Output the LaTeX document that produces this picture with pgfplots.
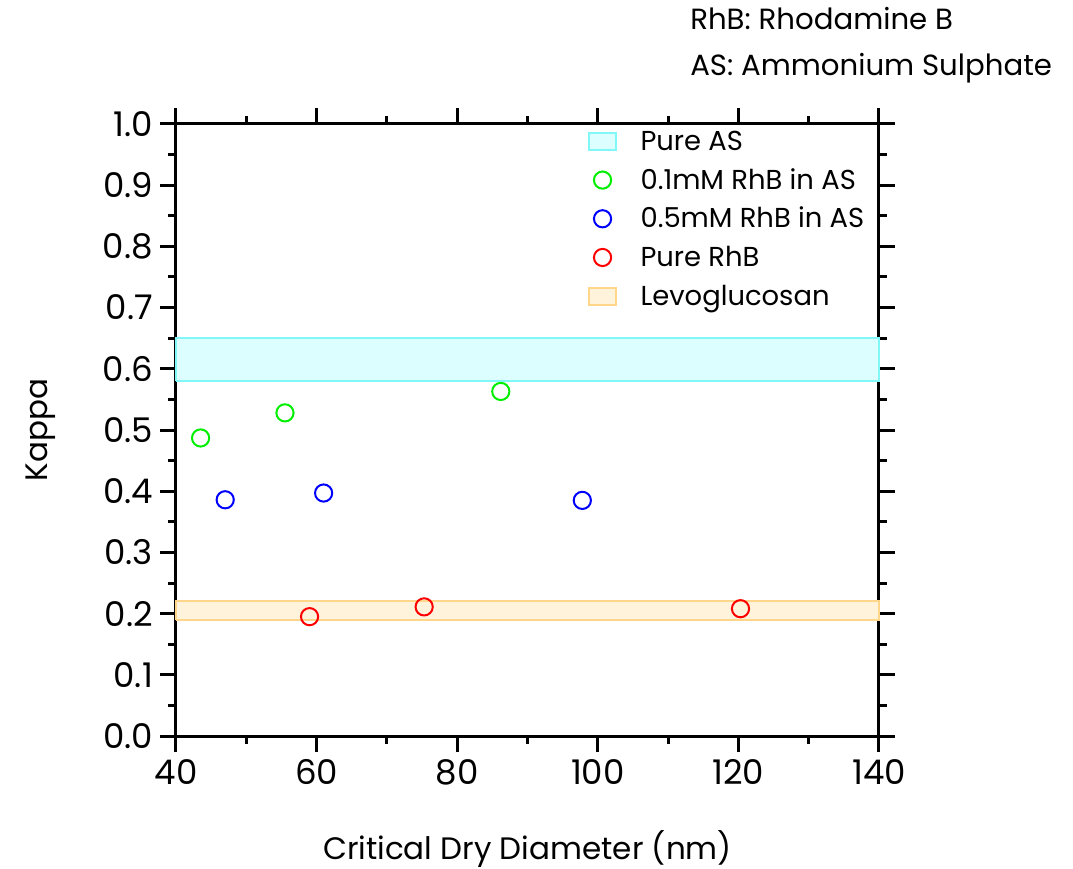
\documentclass[border=0pt]{standalone}
\usepackage{pgfplots}
\pgfplotsset{compat=1.18}
\usepackage{fontspec}
\setmainfont{Poppins}
\definecolor{asfill}{HTML}{DCFEFE}
\definecolor{asedge}{HTML}{80F8F8}
\definecolor{lgfill}{HTML}{FFF3DC}
\definecolor{lgedge}{HTML}{FFD68A}
\definecolor{mgreen}{HTML}{00EE00}
\begin{document}
\begin{tikzpicture}
\begin{axis}[
  at={(0,0)}, anchor=south west,
  scale only axis, width=351.5pt, height=306pt,
  xmin=40, xmax=140, ymin=0, ymax=1,
  xtick={40,60,80,100,120,140}, minor xtick={50,70,90,110,130},
  ytick={0,0.1,0.2,0.3,0.4,0.5,0.6,0.7,0.8,0.9,1.0},
  minor ytick={0.05,0.15,0.25,0.35,0.45,0.55,0.65,0.75,0.85,0.95},
  tick align=outside, tick pos=both,
  major tick length=8pt, minor tick length=4pt,
  every tick/.style={black, line width=1.5pt},
  axis line style={line width=1.5pt},
  /pgf/number format/assume math mode=true,
  ticklabel style={font=\fontsize{17}{20}\selectfont},
  yticklabel style={/pgf/number format/.cd, fixed, fixed zerofill, precision=1},
  xticklabel style={/pgf/number format/.cd, fixed, precision=0},
  xlabel={Critical Dry Diameter (nm)},
  ylabel={Kappa},
  label style={font=\fontsize{15.5}{18}\selectfont},
  xlabel style={at={(axis description cs:0.5,-0.201)}, anchor=base},
  ylabel style={at={(axis description cs:-0.193,0.5)}, anchor=center},
  legend cell align=left,
  legend style={draw=none, fill=none, inner sep=0pt,
    at={(rel axis cs:0.582,0.9886)}, anchor=north west,
    font=\fontsize{13.7}{15}\selectfont,
    nodes={inner sep=0pt, text height=9.5pt, text depth=3pt},
    row sep=6.85pt, column sep=10.5pt},
  area legend image/.style={legend image code/.code={\path[draw=none, fill=none] (0pt,-4.25pt) rectangle (17pt,4.25pt); \draw[##1] (1.75pt,-3pt) rectangle (15.25pt,5.5pt);}},
  mark legend image/.style={legend image code/.code={\path[draw=none, fill=none] (0pt,-4.25pt) rectangle (17pt,4.25pt); \draw[##1] plot coordinates {(8.5pt,1.25pt)};}},
  clip=false,
]
\addplot[fill=asfill, draw=asedge, line width=1pt, area legend image] coordinates {(40,0.58) (140,0.58) (140,0.65) (40,0.65) (40,0.58)};
\addlegendentry{Pure AS}
\addplot[fill=lgfill, draw=lgedge, line width=1pt, forget plot] coordinates {(40,0.19) (140,0.19) (140,0.22) (40,0.22) (40,0.19)};
\addplot[only marks, mark=o, mark size=4.3pt, mgreen, line width=1pt, mark legend image] coordinates {(43.5,0.487) (55.5,0.528) (86.2,0.563)};
\addlegendentry{0.1mM RhB in AS}
\addplot[only marks, mark=o, mark size=4.3pt, blue, line width=1pt, mark legend image] coordinates {(47,0.386) (61,0.397) (97.8,0.385)};
\addlegendentry{0.5mM RhB in AS}
\addplot[only marks, mark=o, mark size=4.3pt, red, line width=1pt, mark legend image] coordinates {(59,0.195) (75.3,0.211) (120.3,0.208)};
\addlegendentry{Pure RhB}
\addlegendimage{fill=lgfill, draw=lgedge, line width=1pt, area legend image}
\addlegendentry{Levoglucosan}
\node[anchor=base west, inner sep=0pt, font=\fontsize{14.6}{16}\selectfont] at (rel axis cs:0.731,1.1536) {RhB: Rhodamine B};
\node[anchor=base west, inner sep=0pt, font=\fontsize{14.6}{16}\selectfont] at (rel axis cs:0.731,1.080) {AS: Ammonium Sulphate};
\end{axis}
\pgfresetboundingbox
\path[use as bounding box] (-88pt,-66.5pt) rectangle (448.5pt,368pt);
\end{tikzpicture}
\end{document}
